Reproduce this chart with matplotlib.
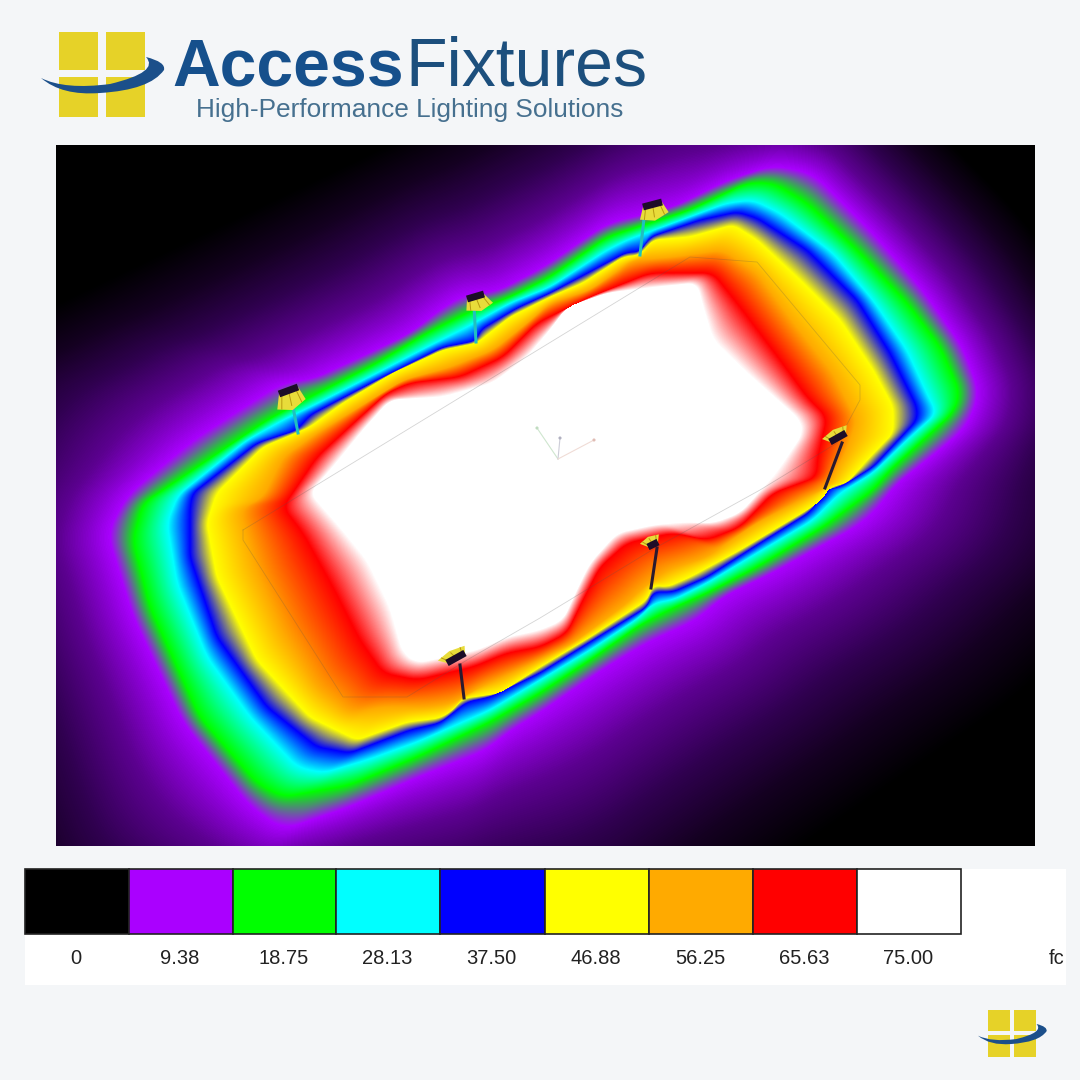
import numpy as np
import matplotlib
matplotlib.use("Agg")
import matplotlib.pyplot as plt
from matplotlib.colors import LinearSegmentedColormap
from matplotlib.patches import PathPatch, Polygon, Rectangle
from matplotlib.path import Path

plt.rcParams['font.family'] = ['Liberation Sans', 'DejaVu Sans']

# scale of the plot, footcandles
legend_values = [0, 9.38, 18.75, 28.13, 37.50, 46.88, 56.25, 65.63, 75.00]
legend_labels = ["0", "9.38", "18.75", "28.13", "37.50", "46.88", "56.25", "65.63", "75.00"]
legend_colors = ["#000000", "#aa00ff", "#00ff00", "#00ffff", "#0000ff", "#ffff00", "#ffaa00", "#ff0000", "#ffffff"]

# iso lines, one per scale value, inner to outer
white_edge = [(310,493),(333,467),(363,430),(390,400),(443,397),(493,383),(527,357),(550,330),(567,307),(607,293),
              (657,287),(697,283),(703,307),(713,340),(747,373),(800,420),(803,433),(780,467),(770,480),(740,513),
              (713,523),(683,522),(653,525),(617,533),(590,563),(580,583),(563,620),(540,630),(507,637),(477,650),
              (417,663),(403,653),(390,607),(367,560),(340,527)]
red_edge = [(290,497),(317,457),(357,420),(387,393),(410,383),(460,377),(503,357),(537,323),(590,297),(650,273),
            (713,273),(740,307),(780,360),(807,397),(827,417),(817,460),(817,477),(773,493),(740,527),(707,540),
            (673,533),(627,543),(600,567),(583,600),(567,633),(540,647),(507,653),(473,667),(417,680),(383,673),
            (360,640),(333,587),(303,533),(283,507)]
orange_edge = [(263,497),(283,457),(317,433),(343,417),(403,380),(450,367),(493,350),(527,323),(550,303),(590,290),
               (633,260),(673,257),(723,250),(757,273),(797,327),(833,373),(857,420),(847,450),(827,487),(807,497),
               (757,523),(707,557),(667,570),(640,590),(627,603),(573,643),(533,663),(497,680),(480,687),(453,703),
               (427,707),(383,707),(350,713),(317,687),(283,633),(257,573),(240,510)]
yellow_edge = [(217,493),(237,473),(263,447),(310,427),(343,403),(393,373),(443,350),(477,343),(510,317),(550,297),
               (583,283),(623,257),(640,255),(653,240),(690,237),(733,225),(757,240),(800,280),(840,320),(873,370),
               (893,407),(893,433),(867,460),(847,483),(830,487),(822,500),(807,510),(740,550),(690,577),(667,587),
               (653,585),(647,600),(590,637),(540,667),(500,693),(473,697),(463,698),(453,710),(440,718),(407,722),
               (357,740),(310,717),(257,660),(217,577),(207,523)]
blue_edge = [(193,493),(257,443),(297,430),(310,415),(377,380),(443,347),(470,342),(477,340),(480,330),(517,308),
             (550,293),(627,252),(640,252),(650,237),(700,220),(737,212),(757,218),(807,250),(857,300),(890,353),
             (917,407),(917,420),(873,467),(840,487),(825,490),(810,512),(757,545),(707,577),(673,592),(653,592),
             (647,607),(590,642),(540,673),(490,697),(467,702),(453,713),(440,723),(410,730),(350,753),(317,747),
             (267,707),(217,637),(190,557),(190,507)]
cyan_edge = [(178,495),(247,440),(283,420),(310,407),(377,373),(427,347),(467,327),(510,303),(550,287),(607,250),
             (627,240),(673,223),(727,203),(753,200),(780,213),(833,253),(873,300),(907,350),(930,400),(937,413),
             (907,440),(873,473),(840,493),(813,520),(757,553),(707,583),(673,600),(653,603),(640,617),(590,650),
             (540,680),(490,710),(440,732),(417,742),(367,760),(323,773),(297,767),(250,717),(207,657),(177,583),(167,523)]
green_edge = [(160,492),(267,420),(310,397),(377,363),(427,333),(467,313),(510,297),(550,277),(607,237),(690,210),
              (747,183),(773,183),(807,203),(857,250),(907,303),(940,347),(960,393),(953,413),(923,440),(890,470),
              (873,490),(823,527),(757,567),(707,593),(673,608),(640,625),(590,660),(540,693),(490,722),(440,746),
              (417,757),(350,785),(283,797),(257,783),(200,717),(150,607),(133,540),(143,503)]
purple_edge = [(127,495),(193,440),(250,403),(283,382),(310,380),(360,357),(410,333),(443,307),(467,293),(493,293),
               (543,267),(607,223),(673,207),(727,180),(773,165),(813,173),(873,233),(923,290),(963,347),(980,393),
               (967,427),(940,450),(893,487),(880,507),(857,527),(827,543),(773,573),(723,597),(697,620),(660,637),
               (647,643),(607,667),(573,690),(540,713),(507,733),(487,750),(417,778),(350,807),(283,830),(250,807),
               (183,723),(133,617),(107,533)]
black_edge = [(-100,380),(57,303),(383,147),(560,60),(780,-30),(953,145),(1033,227),(1130,380),(1150,560),(1033,687),
              (807,843),(600,990),(300,1000),(0,950),(-60,700),(-120,480)]
iso_lines = [white_edge, red_edge, orange_edge, yellow_edge, blue_edge, cyan_edge, green_edge, purple_edge, black_edge]
iso_smooth = [21, 21, 21, 15, 15, 21, 25, 35, 121]
iso_values = legend_values[::-1]

# pole foot, pole top, fixture bar start/end, lamp centre, pole colour
pole_foot = [(298,433),(476,342),(640,255),(825,488),(651,588),(464,698)]
pole_top = [(292,402),(474,306),(644,218),(842,443),(657,548),(460,665)]
bar_start = [(279,394),(467,299),(643,207),(830,442),(648,547),(447,663)]
bar_end = [(298,387),(484,294),(662,202),(846,433),(658,542),(465,653)]
lamp_centre = [(291,402),(479,305),(654,214),(835,433),(650,540),(452,654)]
pole_colors = ["#20c0c0","#20c0c0","#20c0c0","#2a1a30","#2a1a30","#2a1a30"]

field_outline = [(243,530),(690,257),(757,262),(860,385),(860,400),(837,443),(760,490),(657,547),(540,618),
                 (467,660),(407,697),(343,697),(243,540),(243,530)]

BG = "#f4f6f8"
NAVY = "#1b4f8a"
GOLD = "#e6d228"

fig = plt.figure(figsize=(10.8, 10.8), dpi=100, facecolor=BG)
ax = fig.add_axes([0, 0, 1, 1])
ax.set_axis_off()

# turn the iso lines into a grid, radially around the field centre
cx, cy = 555, 470
left, right, top, bottom = 56, 1035, 145, 846
thetas = np.linspace(-np.pi, np.pi, 1440, endpoint=False)
radii = []
for line, k in zip(iso_lines, iso_smooth):
    pts = np.array(line + line[:1], dtype=float)
    # walk the line in 1 px steps and round off the corners of the hand read points
    run = np.r_[0, np.cumsum(np.hypot(*np.diff(pts, axis=0).T))]
    steps = np.arange(0, run[-1], 1.0)
    px = np.interp(steps, run, pts[:, 0])
    py = np.interp(steps, run, pts[:, 1])
    px = np.convolve(np.r_[px[-(k // 2):], px, px[:k // 2]], np.ones(k) / k, mode='valid')
    py = np.convolve(np.r_[py[-(k // 2):], py, py[:k // 2]], np.ones(k) / k, mode='valid')
    a = np.arctan2(py - cy, px - cx)
    d = np.hypot(px - cx, py - cy)
    order = np.argsort(a)
    radii.append(np.interp(thetas, a[order], d[order], period=2 * np.pi))
radii = np.maximum.accumulate(np.array(radii), axis=0)

yy, xx = np.mgrid[top:bottom, left:right]
xx = xx + 0.5
yy = yy + 0.5
r = np.hypot(xx - cx, yy - cy)
pos = (np.arctan2(yy - cy, xx - cx) + np.pi) / (2 * np.pi) * 1440
i0 = pos.astype(int) % 1440
i1 = (i0 + 1) % 1440
w = pos - np.floor(pos)
z = np.full(r.shape, iso_values[0], dtype=float)
for i in range(len(iso_values) - 1):
    r0 = radii[i][i0] * (1 - w) + radii[i][i1] * w
    r1 = radii[i + 1][i0] * (1 - w) + radii[i + 1][i1] * w
    m = (r >= r0) & (r < r1)
    z[m] = iso_values[i] + (r[m] - r0[m]) / (r1[m] - r0[m] + 1e-6) * (iso_values[i + 1] - iso_values[i])
z[r >= radii[-1][i0] * (1 - w) + radii[-1][i1] * w] = 0

# colour stops: same hues as the legend, purple dims slowly into black
stops = [(0, "#000000"), (0.25 * 9.38 / 75, "#140020"), (0.5 * 9.38 / 75, "#300050"),
         (0.75 * 9.38 / 75, "#5c0090"), (0.9 * 9.38 / 75, "#8800d0")]
stops += [(v / 75, c) for v, c in zip(legend_values[1:], legend_colors[1:])]
cmap = LinearSegmentedColormap.from_list("fc", stops, N=1024)
ax.imshow(z, extent=(left, right, bottom, top), cmap=cmap, vmin=0, vmax=75, aspect='auto', interpolation='bilinear', zorder=1)

xs, ys = zip(*field_outline)
ax.plot(xs, ys, color="#555555", lw=0.6, alpha=0.25, zorder=2)

# axis triad in the middle
ax.plot([558, 537], [459, 428], color="#cfe6cf", lw=0.8, zorder=2)
ax.plot([558, 560], [459, 438], color="#cdcdd8", lw=0.8, zorder=2)
ax.plot([558, 594], [459, 440], color="#f0dcd6", lw=0.8, zorder=2)
ax.scatter([537, 560, 594], [428, 438, 440], s=5, c=["#c0dcc0", "#b0b0c0", "#e0bcb4"], zorder=2, linewidths=0)

for i in range(len(pole_foot)):
    ax.plot([pole_foot[i][0], pole_top[i][0]], [pole_foot[i][1], pole_top[i][1]], color=pole_colors[i], lw=2.2, zorder=3)
    s = np.array(bar_start[i], dtype=float)
    e = np.array(bar_end[i], dtype=float)
    c = np.array(lamp_centre[i], dtype=float)
    mid = (s + e) / 2
    d = c - mid
    u = (e - s) / np.hypot(*(e - s))
    fan = [s, e, e + u * 5 + d * 1.2, mid + d * 1.7, s - u * 5 + d * 1.2]
    ax.add_patch(Polygon(fan, closed=True, facecolor="#e8dc3a", edgecolor="none", zorder=4))
    for t in [0.15, 0.5, 0.85]:
        p = s + (e - s) * t
        ax.plot([p[0], p[0] + d[0] * 1.3 + u[0] * (t - 0.5) * 10], [p[1], p[1] + d[1] * 1.3 + u[1] * (t - 0.5) * 10],
                color="#b89a10", lw=0.7, zorder=4)
    ax.plot([s[0], e[0]], [s[1], e[1]], color="#1c0c28", lw=5, zorder=5, solid_capstyle='butt')

# legend panel
ax.add_patch(Rectangle((25, 869), 1041, 116, facecolor="white", edgecolor="none", zorder=1))
box_edges = [25, 129, 233, 336, 440, 545, 649, 753, 857, 961]
for i in range(len(legend_colors)):
    ax.add_patch(Rectangle((box_edges[i], 869), box_edges[i + 1] - box_edges[i], 65, facecolor=legend_colors[i],
                           edgecolor="#222222", lw=1.2, zorder=2))
    ax.text((box_edges[i] + box_edges[i + 1]) / 2 - 1, 959, legend_labels[i], fontsize=14.5, color="#222222",
            ha='center', va='center', zorder=3)
ax.text(1057, 959, "fc", fontsize=14.5, color="#222222", ha='center', va='center', zorder=3)


def draw_logo(x0, y0, s):
    # x0, y0 is the top left of the panes, s the scale of the big one
    def tx(x, y):
        return (x0 + (x - 59) * s, y0 + (y - 32) * s)
    for (a, b, c, d) in [(59, 98, 32, 70), (106, 145, 32, 70), (59, 98, 77, 117), (106, 145, 77, 117)]:
        p = tx(a, c)
        ax.add_patch(Rectangle(p, (b - a) * s, (d - c) * s, facecolor=GOLD, edgecolor="none", zorder=2))
    verts = [(41, 78), (62, 96), (100, 93), (150, 90), (164, 70), (166, 62), (146, 57), (160, 72), (110, 84),
             (65, 90), (41, 78), (41, 78)]
    codes = [Path.MOVETO] + [Path.CURVE3] * 10 + [Path.CLOSEPOLY]
    ax.add_patch(PathPatch(Path([tx(*v) for v in verts], codes), facecolor=NAVY, edgecolor="none", zorder=3))


draw_logo(59, 32, 1)
draw_logo(988, 1010, 0.558)

ax.text(172, 85, "Access", fontsize=47.5, fontweight='bold', color="#16508c", ha='left', va='baseline')
ax.text(405, 85, "Fixtures", fontsize=49, color="#1c4f7d", ha='left', va='baseline')
ax.text(196, 110, "High-Performance Lighting Solutions", fontsize=18.9, color="#46708f", ha='left', va='center')

ax.set_xlim(0, 1080)
ax.set_ylim(1080, 0)
fig.savefig("out.png", dpi=100, facecolor=BG)
